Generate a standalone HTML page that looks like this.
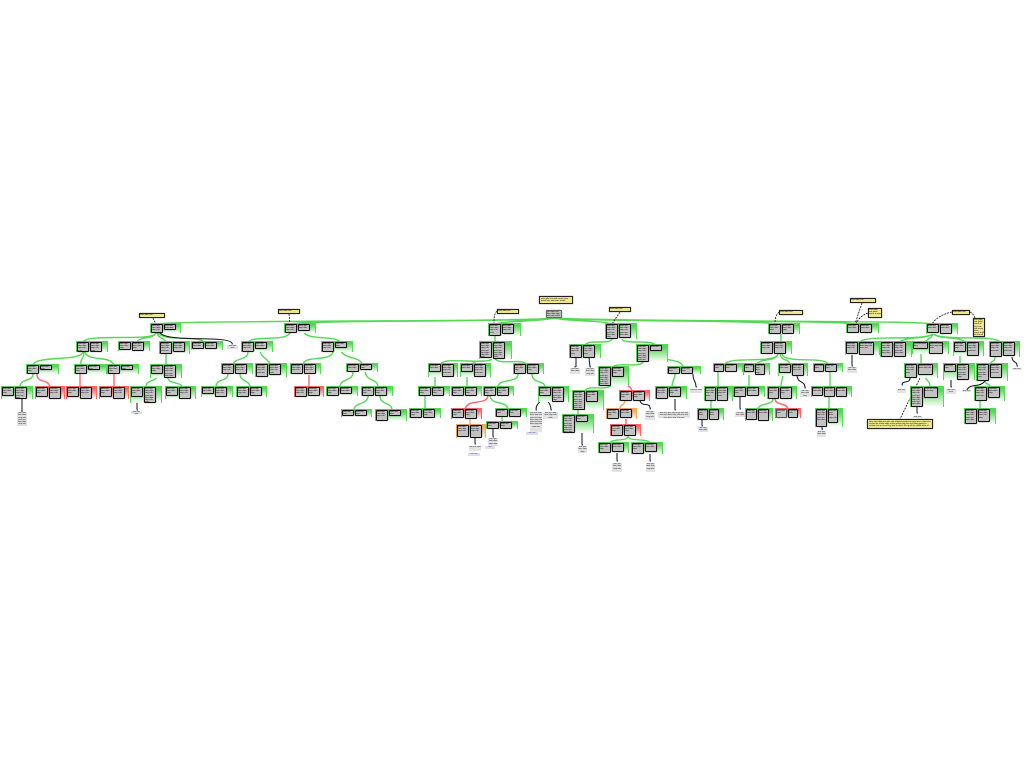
<!DOCTYPE html>
<html><head><meta charset="utf-8"><title>Tree diagram</title>
<style>
html,body{margin:0;padding:0;background:#fff}
#w{position:relative;width:1024px;height:768px;overflow:hidden;font-family:"Liberation Sans",sans-serif}
svg{position:absolute;left:0;top:0}
.g,.r,.o{position:absolute;display:flex;gap:1px;box-sizing:border-box;border:solid #55d955;border-width:1px 1px 0 1px;background:linear-gradient(#55d955 15%,#fff 100%)}
.r{border-color:#f66;background:linear-gradient(#f66 15%,#fff 100%)}
.o{border-color:#f5a85c;background:linear-gradient(#f5a85c 15%,#fff 100%)}
p{margin:0;flex:none;width:12px;box-sizing:border-box;border:1px solid #111;border-radius:1px;background:#c2c2c2;font-size:2px;line-height:2.2px;overflow:hidden;color:#000;box-shadow:0 0 1px #666}
.t{position:absolute;font-size:2px;line-height:2.3px;text-align:center;color:#111;background:#e2e2e2;overflow:hidden}
.n{position:absolute;box-sizing:border-box;border:1px solid #222;background:#eee68a;font-size:2px;line-height:2.2px;overflow:hidden;color:#000;box-shadow:0 0 1px #777}
</style></head><body><div id="w">
<svg width="1024" height="768" viewBox="0 0 1024 768" fill="none">
<g stroke="#55d955" stroke-width="1.4">
<path d="M554 318C530 322 180 320 156 324M554 318C530 322 310 320 290 324M554 318C540 322 510 320 495 324M554 318C570 322 600 320 612 324M554 318C590 322 760 320 775 324M554 318C600 322 840 320 853 324M554 318C610 322 920 320 933 324"/>
<path d="M156 333C152 342 88 333 83 342M156 333C152 340 140 336 137 342M157 333C158 338 164 338 166 342M158 333C165 342 198 335 204 342M83 352C80 362 36 355 33 365M84 352C84 360 80 358 81 365M85 352C88 362 110 355 114 365M33 374C33 382 20 378 20 387M166 354V365M157 374C157 384 146 378 146 387M168 378C168 384 182 382 182 387"/>
<path d="M290 333C285 342 254 335 248 342M303 331C306 341 335 335 340 342M248 352C248 360 235 358 233 364M260 349C260 358 268 358 270 364M333 352C330 362 306 355 303 364M340 348C342 360 360 356 362 364M228 374C228 382 216 378 216 387M240 374C240 382 250 380 250 387M353 372C353 382 340 378 340 387M365 370C365 382 378 378 378 387M368 396C368 405 354 402 354 410M380 396C380 405 392 402 392 410"/>
<path d="M495 336V342M492 358C490 366 444 356 441 364M492 358C490 364 476 358 473 364M494 358C500 366 522 358 526 364M435 372V387M467 372V387M518 374C518 384 498 378 498 387M532 374C532 384 545 380 545 387M425 396V409M490 396C492 406 506 400 508 409M502 417V422"/>
<path d="M612 339C610 345 588 339 585 345M622 339C624 345 652 339 655 345M643 362C640 368 616 362 613 367M655 351C658 364 680 356 683 367M612 384C608 392 588 384 585 391M675 374C675 380 672 380 672 387M578 410V415M628 436C628 442 612 438 610 443M628 436C628 442 648 438 650 443"/>
<path d="M781 334V342M778 354C776 364 730 356 725 364M778 354C776 362 760 358 757 364M780 354C782 362 788 358 790 364M782 354C784 364 824 356 828 364M718 372V387M749 372V387M783 373C783 380 781 380 781 387M830 372V387M711 401V409M773 399C772 406 760 402 758 409M829 397V409"/>
<path d="M933 333C930 342 865 334 860 342M933 333C930 340 905 336 900 342M933 333C932 339 928 338 925 342M933 333C936 340 960 336 965 342M933 333C938 342 995 334 1000 342M921 349V364M960 352V364M995 357C995 362 992 360 990 364M925 375C926 382 930 380 930 387M985 381C985 385 990 383 990 387M980 401V409"/>
</g>
<g stroke="#f66" stroke-width="1.4">
<path d="M37 374C37 384 48 378 50 387M80 374V387M114 374V387M309 375V387M488 396C486 406 468 398 465 409M617 377C620 388 630 382 632 391M626 419V425M775 399C776 406 786 402 788 409"/>
</g>
<path d="M470 419V425M625 401C624 406 620 404 620 409" stroke="#f5a85c" stroke-width="1.4"/>
<g stroke="#111" stroke-width="1">
<path d="M160 333C170 343 226 335 232 343M22 399V413M137 397V409M475 438V443M493 429V437M543 396C541 404 536 402 536 410M547 396C547 404 551 402 551 410M576 358V367M589 358L590 367M693 374C693 382 696 380 696 387M640 401C642 407 650 402 650 408M675 397V410M582 422V444M617 453V461M650 454V461M797 376C798 384 805 380 805 388M740 397V409M702 420V425M822 427V429M852 354V366M1012 356C1012 364 1017 360 1017 366M910 378C910 384 902 380 902 385M917 407V413M951 372V387M985 381C980 388 970 383 967 390"/>
</g>
<g stroke="#111" stroke-width=".8" stroke-dasharray="2 1">
<path d="M153 318L156 324M289 314L290 324M497 311C494 314 494 318 494 324M620 312L612 324M779 312C776 315 775 318 775 324M862 303L855 324M868 313C862 315 858 319 856 324M952 312C942 314 935 319 932 324M970 312C972 313 974 315 975 318M920 378L900 419"/>
</g>
<g fill="#2255cc"><rect x="231.500" y="343" width="1.500" height="1.500"/><rect x="136.500" y="409" width="1.500" height="1.500"/><rect x="474.500" y="443" width="1.500" height="1.500"/><rect x="492.500" y="436" width="1.500" height="1.500"/><rect x="535.500" y="409" width="1.500" height="1.500"/><rect x="550.500" y="409" width="1.500" height="1.500"/><rect x="574.500" y="366" width="1.500" height="1.500"/><rect x="589.500" y="366" width="1.500" height="1.500"/><rect x="581.500" y="444" width="1.500" height="1.500"/><rect x="649.500" y="408" width="1.500" height="1.500"/><rect x="695.500" y="386" width="1.500" height="1.500"/><rect x="674.500" y="409" width="1.500" height="1.500"/><rect x="616.500" y="460" width="1.500" height="1.500"/><rect x="649.500" y="460" width="1.500" height="1.500"/><rect x="701.500" y="425" width="1.500" height="1.500"/><rect x="739.500" y="408" width="1.500" height="1.500"/><rect x="804.500" y="387" width="1.500" height="1.500"/><rect x="821.500" y="428" width="1.500" height="2"/><rect x="851.500" y="365" width="1.500" height="1.500"/><rect x="901.500" y="384" width="1.500" height="1.500"/><rect x="916.500" y="412" width="1.500" height="1.500"/><rect x="950.500" y="386" width="1.500" height="1.500"/><rect x="966.500" y="389" width="1.500" height="1.500"/><rect x="1016.500" y="365" width="1.500" height="1.500"/></g>
</svg>

<div class="n" style="left:139px;top:313px;width:26px;height:5px">note label text</div>
<div class="n" style="left:278px;top:309px;width:22px;height:5px">note label text</div>
<div class="n" style="left:497px;top:309px;width:22px;height:5px">note label text</div>
<div class="n" style="left:539px;top:296px;width:34px;height:8px;padding:1px">note label text with some extra detail here and more words</div>
<div class="n" style="left:609px;top:307px;width:22px;height:5px">note label text</div>
<div class="n" style="left:779px;top:310px;width:24px;height:5px">note label text</div>
<div class="n" style="left:850px;top:298px;width:26px;height:5px">note label text</div>
<div class="n" style="left:868px;top:308px;width:14px;height:10px">note label text detail words in note</div>
<div class="n" style="left:952px;top:310px;width:18px;height:5px">note label text</div>
<div class="n" style="left:973px;top:318px;width:12px;height:19px">note label text detail words in this note with many more words to fill the box all the way down</div>
<div class="n" style="left:867px;top:419px;width:66px;height:10px;padding:1px">long note label text with a lot of detail words that wrap over a few lines across the whole width of this yellow note box and keep going for another line or two of tiny text so that it fills up all the visible area of the note box</div>
<p style="position:absolute;left:546px;top:310px;width:16px;height:8px;border-color:#666">top node text item data step info note value</p>

<div class="g" style="left:150px;top:323px;width:31px;height:10px"><p style="height:9px">note text item data step info</p><p style="height:6px">note text item data</p></div>
<div class="g" style="left:76px;top:341px;width:32px;height:11px"><p style="height:10px">note text item data step info note</p><p style="height:10px">note text item data step info note</p></div>
<div class="g" style="left:118px;top:341px;width:32px;height:10px"><p style="height:8px">note text item data step</p><p style="height:9px">note text item data step</p></div>
<div class="g" style="left:159px;top:341px;width:31px;height:13px"><p style="height:12px">note text item data step info note text</p><p style="height:10px">note text item data step info</p></div>
<div class="g" style="left:191px;top:341px;width:32px;height:9px"><p style="height:7px">note text item data</p><p style="height:7px">note text item data</p></div>
<div class="g" style="left:26px;top:364px;width:33px;height:10px"><p style="height:9px">note text item data step</p><p style="height:5px">note text item</p></div>
<div class="g" style="left:74px;top:364px;width:33px;height:10px"><p style="height:9px">note text item data step</p><p style="height:5px">note text item</p></div>
<div class="g" style="left:107px;top:364px;width:32px;height:10px"><p style="height:9px">note text item data step</p><p style="height:5px">note text item</p></div>
<div class="g" style="left:150px;top:364px;width:32px;height:14px"><p style="height:9px">note text item data step</p><p style="height:13px">note text item data step info note text item data</p></div>
<div class="g" style="left:1px;top:386px;width:32px;height:13px"><p style="height:9px">note text item data step</p><p style="height:12px">note text item data step info note text item</p></div>
<div class="r" style="left:35px;top:386px;width:30px;height:13px"><p style="height:10px">note text item data step</p><p style="height:12px">note text item data step info</p></div>
<div class="r" style="left:66px;top:386px;width:31px;height:13px"><p style="height:10px">note text item data step</p><p style="height:12px">note text item data step info</p></div>
<div class="r" style="left:99px;top:386px;width:30px;height:13px"><p style="height:10px">note text item data step</p><p style="height:12px">note text item data step info</p></div>
<div class="g" style="left:130px;top:386px;width:32px;height:17px"><p style="height:10px">note text item data step</p><p style="height:16px">note text item data step info note text item data step info note</p></div>
<div class="g" style="left:165px;top:386px;width:31px;height:13px"><p style="height:9px">note text item data step</p><p style="height:12px">note text item data step info</p></div>

<div class="g" style="left:284px;top:323px;width:32px;height:10px"><p style="height:9px">note text item data step info</p><p style="height:7px">note text item data</p></div>
<div class="g" style="left:241px;top:341px;width:32px;height:11px"><p style="height:10px">note text item data step info</p><p style="height:7px">note text item data</p></div>
<div class="g" style="left:321px;top:341px;width:32px;height:11px"><p style="height:10px">note text item data step info</p><p style="height:6px">note text item</p></div>
<div class="g" style="left:221px;top:363px;width:32px;height:11px"><p style="height:10px">note text item data step info</p><p style="height:10px">note text item data step info</p></div>
<div class="g" style="left:255px;top:363px;width:32px;height:14px"><p style="height:13px">note text item data step info note text</p><p style="height:11px">note text item data step info note</p></div>
<div class="g" style="left:290px;top:363px;width:31px;height:11px"><p style="height:10px">note text item data step info</p><p style="height:10px">note text item data step info</p></div>
<div class="g" style="left:346px;top:363px;width:32px;height:9px"><p style="height:8px">note text item data</p><p style="height:6px">note text item</p></div>
<div class="g" style="left:201px;top:386px;width:32px;height:11px"><p style="height:7px">note text item data</p><p style="height:10px">note text item data step info</p></div>
<div class="g" style="left:236px;top:386px;width:31px;height:11px"><p style="height:10px">note text item data step info</p><p style="height:9px">note text item data step</p></div>
<div class="r" style="left:294px;top:386px;width:30px;height:11px"><p style="height:10px">note text item data step info</p><p style="height:9px">note text item data step</p></div>
<div class="g" style="left:326px;top:386px;width:32px;height:10px"><p style="height:9px">note text item data step</p><p style="height:7px">note text item data</p></div>
<div class="g" style="left:361px;top:386px;width:32px;height:10px"><p style="height:9px">note text item data step</p><p style="height:9px">note text item data step</p></div>
<div class="g" style="left:341px;top:409px;width:31px;height:8px"><p style="height:6px">note text item</p><p style="height:6px">note text item</p></div>
<div class="g" style="left:375px;top:409px;width:32px;height:12px"><p style="height:11px">note text item data step info</p><p style="height:6px">note text item</p></div>

<div class="g" style="left:488px;top:323px;width:33px;height:13px"><p style="height:12px">note text item data step info note</p><p style="height:10px">note text item data step info</p></div>
<div class="g" style="left:479px;top:341px;width:33px;height:18px"><p style="height:16px">note text item data step info note text item data step info note</p><p style="height:17px">note text item data step info note text item data step info note</p></div>
<div class="g" style="left:428px;top:363px;width:30px;height:14px"><p style="height:8px">note text item data</p><p style="height:13px">note text item data step info note text</p></div>
<div class="g" style="left:460px;top:363px;width:31px;height:14px"><p style="height:8px">note text item data</p><p style="height:13px">note text item data step info note text</p></div>
<div class="g" style="left:513px;top:363px;width:31px;height:11px"><p style="height:10px">note text item data step</p><p style="height:10px">note text item data step</p></div>
<div class="g" style="left:418px;top:386px;width:32px;height:10px"><p style="height:9px">note text item data step</p><p style="height:9px">note text item data step</p></div>
<div class="g" style="left:451px;top:386px;width:31px;height:10px"><p style="height:9px">note text item data step</p><p style="height:9px">note text item data step</p></div>
<div class="g" style="left:483px;top:386px;width:31px;height:10px"><p style="height:9px">note text item data step</p><p style="height:9px">note text item data step</p></div>
<div class="g" style="left:538px;top:386px;width:31px;height:16px"><p style="height:9px">note text item data step</p><p style="height:15px">note text item data step info note text item data step</p></div>
<div class="g" style="left:409px;top:408px;width:32px;height:10px"><p style="height:9px">note text item data step</p><p style="height:9px">note text item data step</p></div>
<div class="r" style="left:451px;top:408px;width:31px;height:11px"><p style="height:9px">note text item data step</p><p style="height:10px">note text item data step</p></div>
<div class="g" style="left:495px;top:408px;width:32px;height:9px"><p style="height:8px">note text item</p><p style="height:8px">note text item</p></div>
<div class="o" style="left:456px;top:424px;width:30px;height:14px"><p style="height:12px">note text item data step info</p><p style="height:13px">note text item data step info</p></div>
<div class="g" style="left:486px;top:421px;width:32px;height:8px"><p style="height:7px">note text item</p><p style="height:7px">note text item</p></div>

<div class="g" style="left:605px;top:323px;width:32px;height:16px"><p style="height:15px">note text item data step info note text item data step</p><p style="height:14px">note text item data step info note text item data</p></div>
<div class="g" style="left:569px;top:344px;width:32px;height:14px"><p style="height:13px">note text item data step info note</p><p style="height:13px">note text item data step info note</p></div>
<div class="g" style="left:636px;top:344px;width:32px;height:18px"><p style="height:17px">note text item data step info note text item data step info note text</p><p style="height:6px">note text</p></div>
<div class="g" style="left:598px;top:366px;width:31px;height:20px"><p style="height:19px">note text item data step info note text item data step info note text item data</p><p style="height:10px">note text item data step</p></div>
<div class="g" style="left:667px;top:366px;width:34px;height:8px"><p style="height:7px">note text item</p><p style="height:7px">note text item</p></div>
<div class="g" style="left:572px;top:390px;width:32px;height:20px"><p style="height:19px">note text item data step info note text item data step info note text item data</p><p style="height:11px">note text item data step</p></div>
<div class="r" style="left:619px;top:390px;width:31px;height:11px"><p style="height:10px">note text item data step</p><p style="height:10px">note text item data step</p></div>
<div class="g" style="left:655px;top:386px;width:32px;height:13px"><p style="height:12px">note text item data step info</p><p style="height:10px">note text item data step</p></div>
<div class="g" style="left:562px;top:414px;width:32px;height:19px"><p style="height:18px">note text item data step info note text item data step info note text item data</p><p style="height:7px">note text item</p></div>
<div class="o" style="left:606px;top:408px;width:31px;height:11px"><p style="height:10px">note text item data step</p><p style="height:9px">note text item data</p></div>
<div class="r" style="left:610px;top:424px;width:31px;height:12px"><p style="height:11px">note text item data step</p><p style="height:11px">note text item data step</p></div>
<div class="g" style="left:598px;top:442px;width:31px;height:11px"><p style="height:10px">note text item data step</p><p style="height:9px">note text item data</p></div>
<div class="g" style="left:631px;top:442px;width:32px;height:12px"><p style="height:11px">note text item data step</p><p style="height:9px">note text item data</p></div>

<div class="g" style="left:768px;top:323px;width:32px;height:11px"><p style="height:10px">note text item data step</p><p style="height:10px">note text item data step</p></div>
<div class="g" style="left:760px;top:341px;width:32px;height:13px"><p style="height:12px">note text item data step info</p><p style="height:12px">note text item data step info</p></div>
<div class="g" style="left:713px;top:363px;width:30px;height:9px"><p style="width:10px;height:8px">note text item</p><p style="height:8px">note text item</p></div>
<div class="g" style="left:743px;top:363px;width:27px;height:12px"><p style="width:10px;height:8px">note text item</p><p style="width:10px;height:11px">note text item data step</p></div>
<div class="g" style="left:778px;top:363px;width:30px;height:13px"><p style="height:9px">note text item data</p><p style="height:12px">note text item data step info</p></div>
<div class="g" style="left:813px;top:363px;width:30px;height:9px"><p style="width:10px;height:8px">note text item</p><p style="height:8px">note text item</p></div>
<div class="g" style="left:704px;top:386px;width:29px;height:15px"><p style="width:11px;height:14px">note text item data step info note</p><p style="width:11px;height:14px">note text item data step info note</p></div>
<div class="g" style="left:733px;top:386px;width:32px;height:11px"><p style="height:10px">note text item data step</p><p style="height:9px">note text item data</p></div>
<div class="g" style="left:767px;top:386px;width:30px;height:13px"><p style="width:11px;height:12px">note text item data step</p><p style="height:12px">note text item data step</p></div>
<div class="g" style="left:811px;top:386px;width:41px;height:11px"><p style="width:11px;height:9px">note text item data</p><p style="width:11px;height:10px">note text item data</p><p style="width:11px;height:10px">note text item data</p></div>
<div class="g" style="left:697px;top:408px;width:27px;height:12px"><p style="width:10px;height:11px">note text item data</p><p style="width:10px;height:11px">note text item data</p></div>
<div class="g" style="left:745px;top:408px;width:28px;height:13px"><p style="width:11px;height:11px">note text item data</p><p style="width:11px;height:12px">note text item data</p></div>
<div class="r" style="left:775px;top:408px;width:26px;height:10px"><p style="width:11px;height:9px;border-color:#555">note text item</p><p style="width:10px;height:9px">note text item</p></div>
<div class="g" style="left:815px;top:408px;width:28px;height:19px"><p style="width:11px;height:18px">note text item data step info note text item data</p><p style="width:10px;height:14px">note text item data step info</p></div>

<div class="g" style="left:846px;top:323px;width:33px;height:10px"><p style="height:9px">note text item data</p><p style="height:9px">note text item data</p></div>
<div class="g" style="left:926px;top:323px;width:32px;height:11px"><p style="height:9px">note text item data</p><p style="height:10px">note text item data</p></div>
<div class="g" style="left:845px;top:341px;width:35px;height:14px"><p style="height:12px">note text item data step info</p><p style="width:15px;height:13px">note text item data step info note text</p></div>
<div class="g" style="left:880px;top:341px;width:32px;height:16px"><p style="height:15px">note text item data step info note text item data</p><p style="height:15px">note text item data step info note text item data</p></div>
<div class="g" style="left:912px;top:341px;width:37px;height:13px"><p style="width:15px;height:7px">note text item data</p><p style="width:14px;height:12px">note text item data step info note</p></div>
<div class="g" style="left:953px;top:341px;width:31px;height:15px"><p style="height:10px">note text item data step</p><p style="height:14px">note text item data step info note text</p></div>
<div class="g" style="left:989px;top:341px;width:31px;height:16px"><p style="height:15px">note text item data step info note text</p><p style="height:14px">note text item data step info note text</p></div>
<div class="g" style="left:904px;top:363px;width:34px;height:15px"><p style="height:14px">note text item data step info note</p><p style="width:15px;height:11px">note text item data step info</p></div>
<div class="g" style="left:943px;top:363px;width:32px;height:17px"><p style="height:8px">note text item</p><p style="height:16px">note text item data step info note text item data step</p></div>
<div class="g" style="left:976px;top:363px;width:32px;height:18px"><p style="height:17px">note text item data step info note text item data step</p><p style="height:14px">note text item data step info note text</p></div>
<div class="g" style="left:910px;top:386px;width:34px;height:21px"><p style="height:20px">note text item data step info note text item data step info note text item data step</p><p style="width:14px;height:11px">note text item data step</p></div>
<div class="g" style="left:974px;top:386px;width:31px;height:15px"><p style="height:14px">note text item data step info note text</p><p style="height:11px">note text item data step</p></div>
<div class="g" style="left:964px;top:408px;width:32px;height:16px"><p style="height:15px">note text item data step info note text item data</p><p style="height:13px">note text item data step info note</p></div>

<div class="t" style="left:227px;top:345px;width:11px;height:4px">leaf text note</div>
<div class="t" style="left:17px;top:412px;width:10px;height:14px">leaf text item data step info note text item data step info note text</div>
<div class="t" style="left:131px;top:411px;width:11px;height:3px">leaf text note</div>
<div class="t" style="left:469px;top:446px;width:12px;height:5px">leaf text note</div>
<div class="t" style="left:468px;top:453px;width:12px;height:3px;color:#33c;background:#dde">leaf text</div>
<div class="t" style="left:488px;top:438px;width:10px;height:8px">leaf text item data step note</div>
<div class="t" style="left:485px;top:446px;width:10px;height:3px;color:#33c;background:#dde">leaf</div>
<div class="t" style="left:530px;top:412px;width:12px;height:20px">leaf text item data step info note text item data step info note text item data step info note text</div>
<div class="t" style="left:526px;top:432px;width:12px;height:3px;color:#33c;background:#dde">leaf text</div>
<div class="t" style="left:543px;top:412px;width:15px;height:7px">leaf text item data step info note</div>
<div class="t" style="left:570px;top:368px;width:10px;height:6px">leaf text item data</div>
<div class="t" style="left:585px;top:368px;width:10px;height:8px">leaf text item data step info</div>
<div class="t" style="left:578px;top:446px;width:9px;height:7px">leaf text item data step</div>
<div class="t" style="left:645px;top:411px;width:10px;height:9px">leaf text item data step info</div>
<div class="t" style="left:690px;top:389px;width:12px;height:4px">leaf text item</div>
<div class="t" style="left:658px;top:412px;width:32px;height:6px">leaf text item data step info note text item data step info note text item data step info note</div>
<div class="t" style="left:612px;top:463px;width:10px;height:9px">leaf text item data step info</div>
<div class="t" style="left:646px;top:463px;width:9px;height:9px">leaf text item data step info</div>
<div class="t" style="left:698px;top:427px;width:10px;height:5px">leaf text item data</div>
<div class="t" style="left:735px;top:412px;width:10px;height:5px">leaf text item data</div>
<div class="t" style="left:800px;top:390px;width:10px;height:7px">leaf text item data step</div>
<div class="t" style="left:817px;top:431px;width:9px;height:6px">leaf text item data</div>
<div class="t" style="left:847px;top:367px;width:10px;height:6px">leaf text item data</div>
<div class="t" style="left:897px;top:389px;width:9px;height:4px">leaf text</div>
<div class="t" style="left:913px;top:416px;width:9px;height:2px">leaf text</div>
<div class="t" style="left:946px;top:389px;width:10px;height:5px">leaf text item</div>
<div class="t" style="left:962px;top:390px;width:9px;height:2px">leaf text</div>
<div class="t" style="left:1012px;top:368px;width:10px;height:2px">leaf text</div>
</div></body></html>
